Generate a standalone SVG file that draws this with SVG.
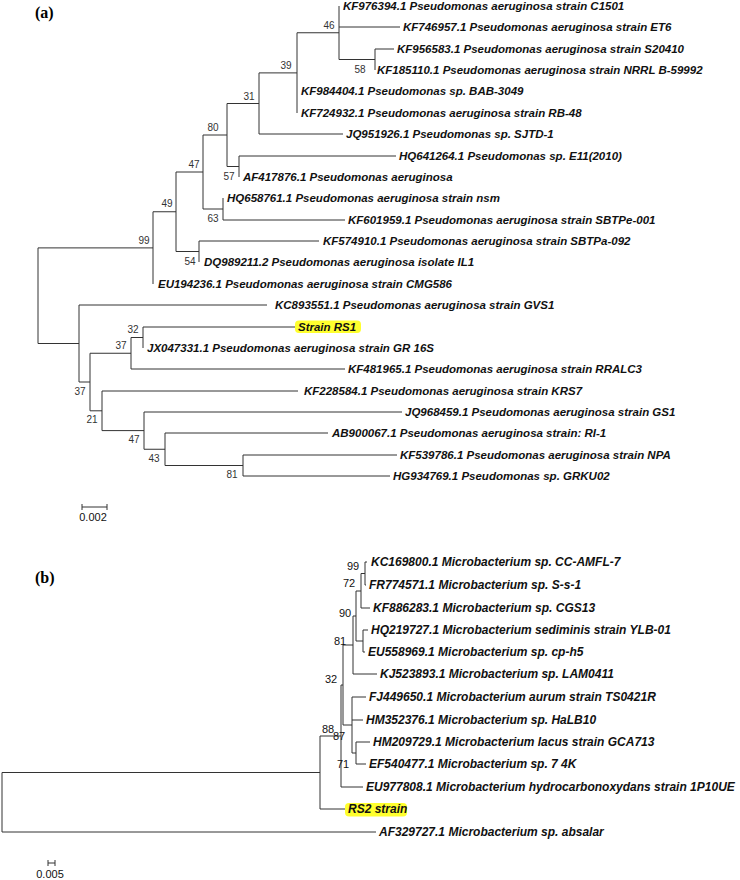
<svg xmlns="http://www.w3.org/2000/svg" width="740" height="880" viewBox="0 0 740 880">
<style>
.br{fill:none;stroke:#333;stroke-width:1}
.la{font-family:"Liberation Sans",Arial,sans-serif;font-weight:bold;font-style:italic;font-size:11.5px;fill:#111}
.lb{font-family:"Liberation Sans",Arial,sans-serif;font-weight:bold;font-style:italic;font-size:12px;fill:#111}
.bs{font-family:"Liberation Sans",Arial,sans-serif;font-size:10px;fill:#333;text-anchor:middle}
.bsb{font-family:"Liberation Sans",Arial,sans-serif;font-size:11px;fill:#111;text-anchor:middle}
.pl{font-family:"Liberation Serif","Times New Roman",serif;font-weight:bold;font-size:16px;fill:#000}
.sc{font-family:"Liberation Sans",Arial,sans-serif;font-size:11px;fill:#111;text-anchor:middle}
.hl{fill:#ffff2e}
</style>
<rect width="740" height="880" fill="#fff"/>
<text class="pl" x="35" y="18">(a)</text>
<text class="pl" x="35" y="583">(b)</text>
<g id="connectors">
<path class="br" d="M375 49V70M375 49H394"/>
<path class="br" d="M339 6V59.5M339 27H400M339 59.5H375"/>
<path class="br" d="M297 32.75V113M297 32.75H339"/>
<path class="br" d="M259 72.9V134M259 72.9H297M259 134H343"/>
<path class="br" d="M239 156V177M239 156H396"/>
<path class="br" d="M227 103.5V166.5M227 103.5H259M227 166.5H239"/>
<path class="br" d="M223 198V220M223 220H345"/>
<path class="br" d="M203 135V209M203 135H227M203 209H223"/>
<path class="br" d="M199 241V262M199 241H319"/>
<path class="br" d="M176 172V251.5M176 172H203M176 251.5H199"/>
<path class="br" d="M153 211.75V284M153 211.75H176"/>
<path class="br" d="M38 247.9V343.5M38 247.9H153M38 343.5H79"/>
<path class="br" d="M79 305V382M79 305H267M79 382H90"/>
<path class="br" d="M90 353.25V410.8M90 353.25H131M90 410.8H102"/>
<path class="br" d="M131 337.5V369M131 337.5H143M131 369H345"/>
<path class="br" d="M143 327V348M143 327H295"/>
<path class="br" d="M102 391V430.6M102 391H298M102 430.6H144"/>
<path class="br" d="M144 412V449.25M144 412H402M144 449.25H165"/>
<path class="br" d="M165 433V465.5M165 433H328M165 465.5H243"/>
<path class="br" d="M243 455V476M243 455H397M243 476H390"/>
<path class="br" d="M82 507H107M82 504V510M107 504V510"/>
<path class="br" d="M365 562V585M365 562H367M365 585H366"/>
<path class="br" d="M361 573.5V608M361 573.5H365M361 608H370"/>
<path class="br" d="M363 630V652M363 630H368M363 652H365"/>
<path class="br" d="M356 591V641M356 591H361M356 641H363"/>
<path class="br" d="M353 616V674M353 616H356M353 674H377"/>
<path class="br" d="M343 645V725M343 645H353M343 725H352"/>
<path class="br" d="M352 697V753M352 697H366M352 720H363M352 753H356"/>
<path class="br" d="M356 742V764M356 742H370M356 764H366"/>
<path class="br" d="M341 685V787M341 685H343M341 787H363"/>
<path class="br" d="M320 736V809M320 736H341M320 809H345"/>
<path class="br" d="M2 772.5V832M2 772.5H320M2 832H376"/>
<path class="br" d="M48 863H55M48 860V866M55 860V866"/>
</g>
<g id="scale-a"><text class="sc" x="93" y="521">0.002</text></g>
<g id="scale-b"><text class="sc" x="50" y="878">0.005</text></g>
<g id="boot-a">
<text class="bs" x="329" y="28.5">46</text>
<text class="bs" x="360" y="72.5">58</text>
<text class="bs" x="286" y="68.5">39</text>
<text class="bs" x="249" y="99.5">31</text>
<text class="bs" x="213" y="130.5">80</text>
<text class="bs" x="194" y="167.5">47</text>
<text class="bs" x="229" y="179.5">57</text>
<text class="bs" x="213" y="221.5">63</text>
<text class="bs" x="167" y="206.5">49</text>
<text class="bs" x="190" y="264.5">54</text>
<text class="bs" x="144" y="243.5">99</text>
<text class="bs" x="133" y="332.5">32</text>
<text class="bs" x="121" y="348.5">37</text>
<text class="bs" x="80" y="394.5">37</text>
<text class="bs" x="92" y="422.5">21</text>
<text class="bs" x="134" y="442.5">47</text>
<text class="bs" x="154" y="461.5">43</text>
<text class="bs" x="232" y="477.5">81</text>
</g>
<g id="boot-b">
<text class="bsb" x="353" y="570">99</text>
<text class="bsb" x="349" y="587">72</text>
<text class="bsb" x="345" y="617">90</text>
<text class="bsb" x="340" y="645">81</text>
<text class="bsb" x="331" y="683">32</text>
<text class="bsb" x="328" y="733">88</text>
<text class="bsb" x="339" y="740">87</text>
<text class="bsb" x="343" y="768">71</text>
</g>
<g id="a1"><text class="la" x="343" y="10">KF976394.1 Pseudomonas aeruginosa strain C1501</text></g>
<g id="a2"><text class="la" x="403" y="31">KF746957.1 Pseudomonas aeruginosa strain ET6</text></g>
<g id="a3"><text class="la" x="397" y="53">KF956583.1 Pseudomonas aeruginosa strain S20410</text></g>
<g id="a4"><text class="la" x="377" y="74">KF185110.1 Pseudomonas aeruginosa strain NRRL B-59992</text></g>
<g id="a5"><text class="la" x="301" y="95">KF984404.1 Pseudomonas sp. BAB-3049</text></g>
<g id="a6"><text class="la" x="301" y="117">KF724932.1 Pseudomonas aeruginosa strain RB-48</text></g>
<g id="a7"><text class="la" x="346" y="138">JQ951926.1 Pseudomonas sp. SJTD-1</text></g>
<g id="a8"><text class="la" x="399" y="160">HQ641264.1 Pseudomonas sp. E11(2010)</text></g>
<g id="a9"><text class="la" x="243" y="181">AF417876.1 Pseudomonas aeruginosa</text></g>
<g id="a10"><text class="la" x="227" y="202">HQ658761.1 Pseudomonas aeruginosa strain nsm</text></g>
<g id="a11"><text class="la" x="348" y="224">KF601959.1 Pseudomonas aeruginosa strain SBTPe-001</text></g>
<g id="a12"><text class="la" x="323" y="245">KF574910.1 Pseudomonas aeruginosa strain SBTPa-092</text></g>
<g id="a13"><text class="la" x="204" y="266">DQ989211.2 Pseudomonas aeruginosa isolate IL1</text></g>
<g id="a14"><text class="la" x="158" y="288">EU194236.1 Pseudomonas aeruginosa strain CMG586</text></g>
<g id="a15"><text class="la" x="275" y="309">KC893551.1 Pseudomonas aeruginosa strain GVS1</text></g>
<g id="a16"><rect class="hl" x="295" y="320.5" width="66" height="12.5" rx="4"/><text class="la" x="298" y="331">Strain RS1</text></g>
<g id="a17"><text class="la" x="147" y="352">JX047331.1 Pseudomonas aeruginosa strain GR 16S</text></g>
<g id="a18"><text class="la" x="348" y="373">KF481965.1 Pseudomonas aeruginosa strain RRALC3</text></g>
<g id="a19"><text class="la" x="304" y="395">KF228584.1 Pseudomonas aeruginosa strain KRS7</text></g>
<g id="a20"><text class="la" x="405" y="416">JQ968459.1 Pseudomonas aeruginosa strain GS1</text></g>
<g id="a21"><text class="la" x="332" y="437">AB900067.1 Pseudomonas aeruginosa strain: RI-1</text></g>
<g id="a22"><text class="la" x="400" y="459">KF539786.1 Pseudomonas aeruginosa strain NPA</text></g>
<g id="a23"><text class="la" x="393" y="480">HG934769.1 Pseudomonas sp. GRKU02</text></g>
<g id="b1"><text class="lb" x="371" y="566">KC169800.1 Microbacterium sp. CC-AMFL-7</text></g>
<g id="b2"><text class="lb" x="369" y="589">FR774571.1 Microbacterium sp. S-s-1</text></g>
<g id="b3"><text class="lb" x="373" y="612">KF886283.1 Microbacterium sp. CGS13</text></g>
<g id="b4"><text class="lb" x="371" y="634">HQ219727.1 Microbacterium sediminis strain YLB-01</text></g>
<g id="b5"><text class="lb" x="368" y="656">EU558969.1 Microbacterium sp. cp-h5</text></g>
<g id="b6"><text class="lb" x="380" y="678">KJ523893.1 Microbacterium sp. LAM0411</text></g>
<g id="b7"><text class="lb" x="369" y="701">FJ449650.1 Microbacterium aurum strain TS0421R</text></g>
<g id="b8"><text class="lb" x="366" y="724">HM352376.1 Microbacterium sp. HaLB10</text></g>
<g id="b9"><text class="lb" x="373" y="746">HM209729.1 Microbacterium lacus strain GCA713</text></g>
<g id="b10"><text class="lb" x="369" y="768">EF540477.1 Microbacterium sp. 7 4K</text></g>
<g id="b11"><text class="lb" x="366" y="791">EU977808.1 Microbacterium hydrocarbonoxydans strain 1P10UE</text></g>
<g id="b12"><rect class="hl" x="345" y="803" width="62" height="13.5" rx="4"/><text class="lb" x="348" y="813">RS2 strain</text></g>
<g id="b13"><text class="lb" x="379" y="836">AF329727.1 Microbacterium sp. absalar</text></g>
</svg>
